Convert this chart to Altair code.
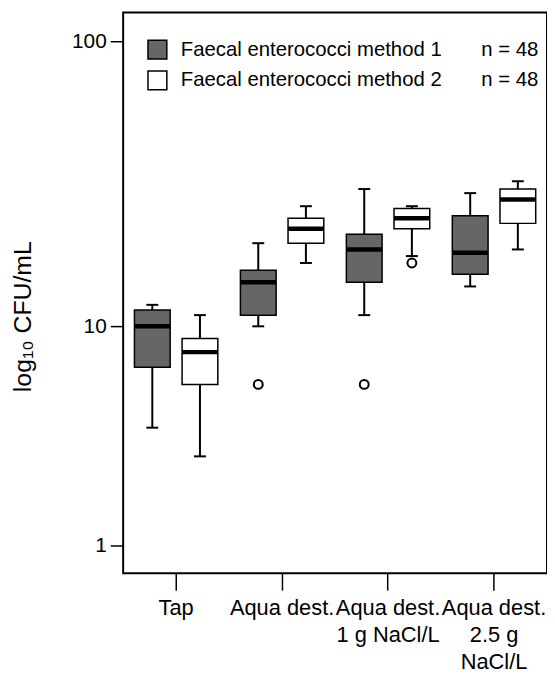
import altair as alt
import pandas as pd

categories = ["Tap", "Aqua dest.", "Aqua dest.\n1 g NaCl/L", "Aqua dest.\n2.5 g\nNaCl/L"]
NB = "\u00a0"
methods = ["Faecal enterococci method 1" + NB * 7 + "n = 48",
           "Faecal enterococci method 2" + NB * 7 + "n = 48"]
colors = ["#666666", "#ffffff"]

m1_min = [4, 10, 11, 14]
m1_q1 = [7, 11, 14.5, 15.5]
m1_med = [10, 14.5, 19, 18.5]
m1_q3 = [11.5, 16, 21.5, 25]
m1_max = [12, 20, 31, 30]

m2_min = [3, 17, 18, 19]
m2_q1 = [6, 20, 22.5, 23.5]
m2_med = [8, 22.5, 24.5, 28.5]
m2_q3 = [9, 24.5, 26.5, 31]
m2_max = [11, 27, 27, 33]

out_cat = [categories[1], categories[2], categories[2]]
out_method = [methods[0], methods[0], methods[1]]
out_val = [6, 6, 17]

rows = []
for i, c in enumerate(categories):
    rows.append(dict(cat=c, method=methods[0], lo=m1_min[i], q1=m1_q1[i], med=m1_med[i], q3=m1_q3[i], hi=m1_max[i]))
    rows.append(dict(cat=c, method=methods[1], lo=m2_min[i], q1=m2_q1[i], med=m2_med[i], q3=m2_q3[i], hi=m2_max[i]))
df = pd.DataFrame(rows)
out_df = pd.DataFrame(dict(cat=out_cat, method=out_method, v=out_val))

FONT = "Liberation Sans"

x_enc = alt.X(
    "cat:N",
    sort=categories,
    scale=alt.Scale(domain=categories, paddingInner=0, paddingOuter=0),
    axis=alt.Axis(
        title=None, labelAngle=0, labelExpr="split(datum.label, '\\n')",
        labelFont=FONT, labelFontSize=22, labelColor="black", labelLineHeight=27,
        labelOverlap=False, labelBound=False, labelLimit=0, labelPadding=8,
        tickSize=17, tickColor="black", tickWidth=1.5, domain=False, grid=False,
        labelBaseline="top",
    ),
)
xoff = alt.XOffset("method:N", scale=alt.Scale(domain=methods, paddingInner=0, paddingOuter=0.112))

yscale = alt.Scale(type="symlog", constant=1, domain=[0.611, 125.4], nice=False, zero=False)
y_axis = alt.Axis(
    values=[1, 10, 100], format="d", title="log₁₀ CFU/mL",
    labelFont=FONT, labelFontSize=21, labelColor="black", labelPadding=4,
    tickSize=13, tickColor="black", tickWidth=1.5, domain=False, grid=False,
    titleFont=FONT, titleFontSize=25, titleFontWeight="normal", titleColor="black",
    titleX=-101, titleY=306, titleAngle=-90, titleAlign="center", titleBaseline="middle",
)

base = alt.Chart(df)

whisker = base.mark_rule(color="black", strokeWidth=2, opacity=1).encode(
    x=x_enc, xOffset=xoff,
    y=alt.Y("lo:Q", scale=yscale, axis=y_axis), y2="hi:Q",
)

box = base.mark_bar(size=36, stroke="black", strokeWidth=1.5, opacity=1).encode(
    x=x_enc, xOffset=xoff,
    y=alt.Y("q1:Q", scale=yscale), y2="q3:Q",
    fill=alt.Fill("method:N", scale=alt.Scale(domain=methods, range=colors),
                  legend=alt.Legend(
                      title=None, orient="none", legendX=24, legendY=27,
                      symbolType="square", symbolSize=361, symbolStrokeColor="black",
                      symbolStrokeWidth=1.5, symbolOpacity=1, labelFont=FONT, labelFontSize=20.5,
                      labelColor="black", labelLimit=0, labelOffset=13, rowPadding=6,
                      padding=0,
                  )),
)

median = base.mark_tick(color="black", size=36, thickness=4.5, opacity=1).encode(
    x=x_enc, xOffset=xoff, y=alt.Y("med:Q", scale=yscale),
)
cap_lo = base.mark_tick(color="black", size=12, thickness=2, opacity=1).encode(
    x=x_enc, xOffset=xoff, y=alt.Y("lo:Q", scale=yscale),
)
cap_hi = base.mark_tick(color="black", size=12, thickness=2, opacity=1).encode(
    x=x_enc, xOffset=xoff, y=alt.Y("hi:Q", scale=yscale),
)
outl = alt.Chart(out_df).mark_point(shape="circle", size=80, filled=False, color="black",
                                     fill="white", strokeWidth=2, opacity=1).encode(
    x=x_enc, xOffset=xoff, y=alt.Y("v:Q", scale=yscale),
)

chart = alt.layer(whisker, box, median, cap_lo, cap_hi, outl).properties(
    width=427, height=565,
    autosize=alt.AutoSizeParams(type="none"),
    padding={"left": 116, "top": 2, "right": 0, "bottom": 100},
    background="white",
).configure_view(stroke="black", strokeWidth=2)

chart.save("out.html", embed_options={"renderer": "svg", "actions": False})
